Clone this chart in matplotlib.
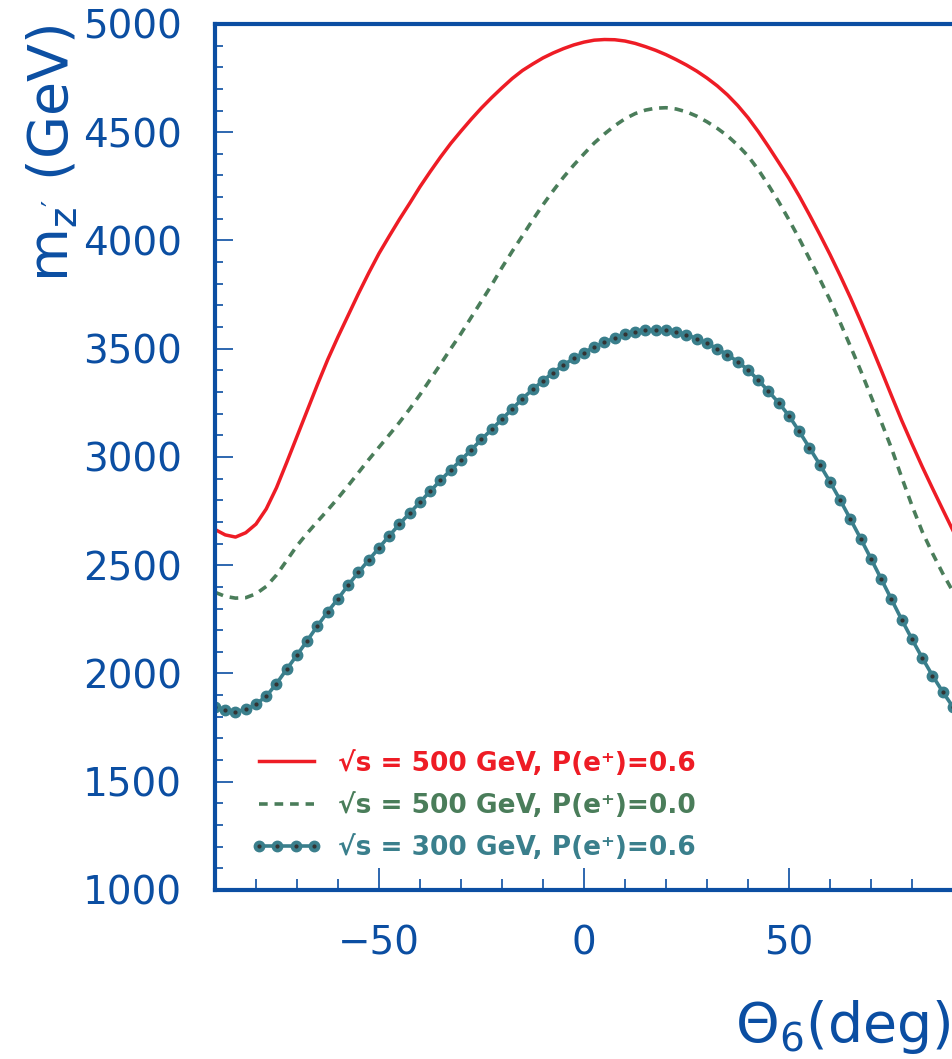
import matplotlib.pyplot as plt
from matplotlib.legend_handler import HandlerTuple

# theta_6 (deg), same grid for all three curves
theta = [-90, -87.5, -85, -82.5, -80, -77.5, -75, -72.5, -70, -67.5, -65, -62.5, -60, -57.5, -55,
         -52.5, -50, -47.5, -45, -42.5, -40, -37.5, -35, -32.5, -30, -27.5, -25, -22.5, -20, -17.5,
         -15, -12.5, -10, -7.5, -5, -2.5, 0, 2.5, 5, 7.5, 10, 12.5, 15, 17.5, 20, 22.5, 25, 27.5,
         30, 32.5, 35, 37.5, 40, 42.5, 45, 47.5, 50, 52.5, 55, 57.5, 60, 62.5, 65, 67.5, 70, 72.5,
         75, 77.5, 80, 82.5, 85, 87.5, 90]

# m_Z' (GeV)
m_500_p06 = [2665, 2640, 2630, 2650, 2690, 2760, 2858, 2975, 3095, 3215, 3335, 3450, 3555, 3655, 3755,
             3850, 3940, 4020, 4098, 4172, 4248, 4318, 4385, 4448, 4505, 4560, 4612, 4660, 4705, 4748,
             4785, 4815, 4843, 4866, 4886, 4903, 4916, 4925, 4928, 4927, 4921, 4910, 4895, 4878, 4858, 4835, 4810, 4782,
             4750, 4714, 4672, 4623, 4567, 4503, 4433, 4360, 4286, 4205, 4118, 4028, 3935, 3837, 3735, 3627, 3515, 3400,
             3283, 3168, 3060, 2955, 2855, 2757, 2660]
m_500_p00 = [2375, 2356, 2348, 2350, 2368, 2402, 2455, 2522, 2590, 2648, 2702, 2755, 2810, 2868, 2928,
             2988, 3045, 3102, 3160, 3222, 3288, 3358, 3428, 3500, 3570, 3645, 3720, 3795, 3875, 3950,
             4022, 4095, 4165, 4230, 4292, 4348, 4400, 4450, 4492, 4530, 4562, 4586, 4602, 4611, 4613, 4607, 4594, 4574,
             4548, 4518, 4483, 4440, 4390, 4327, 4255, 4178, 4095, 4008, 3915, 3822, 3725, 3620, 3510, 3398, 3280, 3162,
             3040, 2905, 2775, 2655, 2555, 2462, 2378]
m_300_p06 = [1845, 1830, 1823, 1834, 1858, 1895, 1953, 2020, 2085, 2152, 2220, 2285, 2345, 2408, 2468,
             2524, 2580, 2636, 2690, 2741, 2791, 2842, 2892, 2940, 2986, 3033, 3081, 3128, 3175, 3222,
             3270, 3312, 3352, 3390, 3425, 3455, 3482, 3508, 3530, 3550, 3566, 3578, 3585, 3588, 3586, 3578, 3565, 3546,
             3525, 3500, 3472, 3440, 3402, 3355, 3303, 3250, 3190, 3118, 3042, 2965, 2885, 2800, 2712, 2622, 2530, 2436,
             2342, 2248, 2158, 2072, 1990, 1915, 1845]

labels = ["\u221As = 500 GeV, P(e\u207A)=0.6",
          "\u221As = 500 GeV, P(e\u207A)=0.0",
          "\u221As = 300 GeV, P(e\u207A)=0.6"]

blue = "#0b4ea2"
red = "#ee1c25"
green = "#4a7d5a"
teal = "#3a7f8c"

fig = plt.figure(figsize=(9.53, 10.59), dpi=100)
ax = fig.add_axes([0.2256, 0.1596, 0.7744, 0.8178])

l1, = ax.plot(theta, m_500_p06, color=red, lw=2.5)
l2, = ax.plot(theta, m_500_p00, color=green, lw=2.6, linestyle=(0, (2.4, 1.9)))
l3, = ax.plot(theta, m_300_p06, color=teal, lw=2.6, marker="o", ms=7.5,
              markerfacecolor=teal, markeredgecolor=teal)
l4, = ax.plot(theta, m_300_p06, color="none", marker="o", ms=2.0,
              markerfacecolor="#333333", markeredgecolor="#333333")

ax.set_xlim(-90, 90)
ax.set_ylim(1000, 5000)
ax.set_xticks([-50, 0, 50])
ax.set_xticks(range(-80, 91, 10), minor=True)
ax.set_yticks(range(1000, 5001, 500))
ax.set_yticks(range(1000, 5001, 100), minor=True)
ax.set_xticklabels(["\u221250", "0", "50"])

# axes frame
for side in ["left", "top", "bottom"]:
    ax.spines[side].set_color(blue)
    ax.spines[side].set_linewidth(3)
ax.spines["right"].set_visible(False)

ax.tick_params(axis="both", which="both", direction="in", colors=blue, labelcolor=blue,
               right=False, top=False)
ax.tick_params(axis="y", which="major", length=13, width=1.2, pad=24, labelsize=28)
ax.tick_params(axis="y", which="minor", length=5.5, width=1.2)
ax.tick_params(axis="x", which="major", length=16, width=1.2, pad=25, labelsize=28)
ax.tick_params(axis="x", which="minor", length=8, width=1.2)

fig.text(0.055, 0.977, "m$_{\\mathregular{z'}}$ (GeV)", rotation=90, ha="center", va="top",
         fontsize=40, color=blue)
fig.text(0.997, 0.030, "\u0398$_{\\mathregular{6}}$(deg)", ha="right", va="center",
         fontsize=40, color=blue)

leg = ax.legend([l1, l2, (l3, l4)], labels, loc="upper left", bbox_to_anchor=(0.0495, 0.161),
                frameon=False, borderpad=0, borderaxespad=0, handlelength=2.65, handletextpad=0.62,
                labelspacing=0.62, numpoints=4, handler_map={tuple: HandlerTuple(ndivide=1)},
                prop={"size": 19, "weight": "bold"})
for txt, c in zip(leg.get_texts(), [red, green, teal]):
    txt.set_color(c)

plt.savefig("out.png", dpi=100)
